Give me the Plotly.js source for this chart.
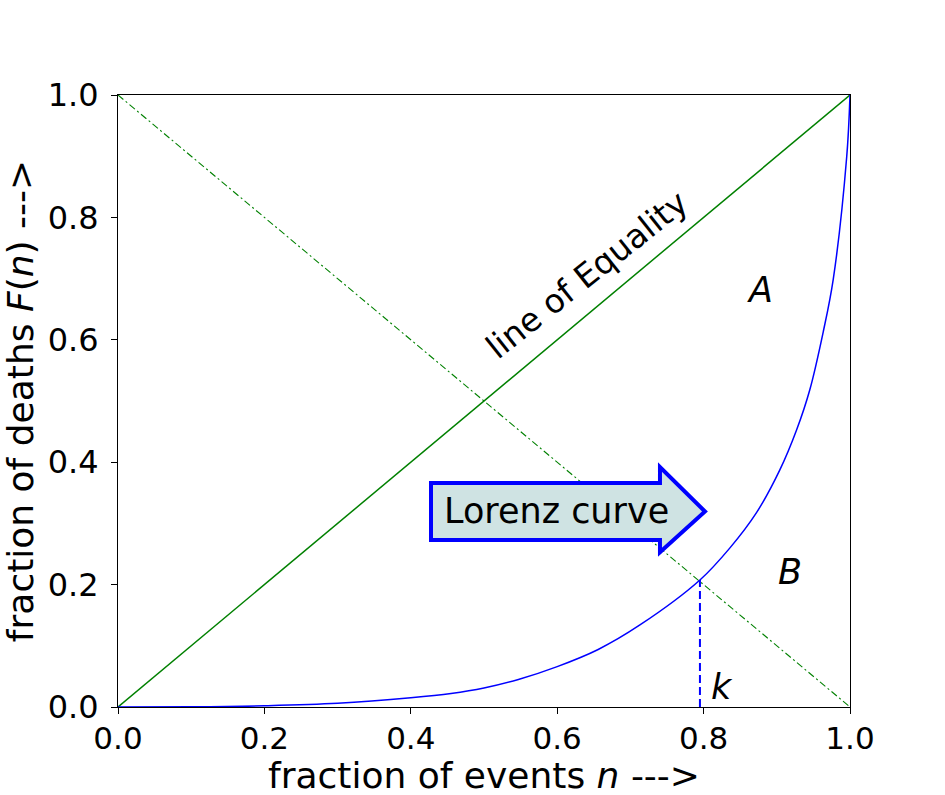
<!DOCTYPE html>
<html>
<head>
<meta charset="utf-8">
<script src="https://cdn.plot.ly/plotly-3.0.1.min.js"></script>
<style>
  html, body { margin: 0; padding: 0; background: #ffffff; }
  #chart { width: 945px; height: 795px; }
</style>
</head>
<body>
<div id="chart"></div>
<script>
// Lorenz curve: cumulative fraction of deaths F(n) against fraction of events n
const lorenzN = [0, 0.1, 0.2, 0.3, 0.4, 0.455, 0.5, 0.547, 0.6, 0.656, 0.713, 0.795, 0.836, 0.8725, 0.904, 0.927, 0.945, 0.9636, 0.977, 0.9955, 1.0];
const lorenzF = [0, 0.0003, 0.002, 0.006, 0.015, 0.022, 0.031, 0.045, 0.066, 0.094, 0.134, 0.2075, 0.260, 0.318, 0.387, 0.4526, 0.518, 0.614, 0.698, 0.899, 1.0];

// line of equality and the anti-diagonal
const equalityN = [0, 1];
const equalityF = [0, 1];
const antiN = [0, 1];
const antiF = [1, 0];

// point k where the Lorenz curve meets the anti-diagonal
const kN = 0.795;
const kF = 0.2075;

const tickVals = [0, 0.2, 0.4, 0.6, 0.8, 1.0];
const tickText = ['0.0', '0.2', '0.4', '0.6', '0.8', '1.0'];

const FONT = 'DejaVu Sans, Verdana, sans-serif';

const traces = [
  {
    x: equalityN, y: equalityF, mode: 'lines', hoverinfo: 'skip',
    line: { color: '#008000', width: 1.5 }
  },
  {
    x: antiN, y: antiF, mode: 'lines', hoverinfo: 'skip',
    line: { color: '#008000', width: 1.1, dash: '7px,3px,2px,3px' }
  },
  {
    x: lorenzN, y: lorenzF, mode: 'lines', hoverinfo: 'skip',
    line: { color: '#0000ff', width: 1.5, shape: 'spline', smoothing: 1.0 }
  },
  {
    x: [kN, kN], y: [0, kF], mode: 'lines', hoverinfo: 'skip',
    line: { color: '#0000ff', width: 2, dash: '8px,4px' }
  }
];

// block arrow around the "Lorenz curve" label (data coordinates)
const ax0 = 0.4276, ax1 = 0.7404, axTip = 0.8019;
const ayTop = 0.366, ayBot = 0.273, ayHeadTop = 0.392, ayHeadBot = 0.253, ayMid = 0.3195;
const arrowPath = `M ${ax0} ${ayBot} L ${ax0} ${ayTop} L ${ax1} ${ayTop} L ${ax1} ${ayHeadTop} ` +
                  `L ${axTip} ${ayMid} L ${ax1} ${ayHeadBot} L ${ax1} ${ayBot} Z`;

const layout = {
  width: 945,
  height: 795,
  margin: { l: 118, r: 95, t: 95, b: 88 },
  paper_bgcolor: '#ffffff',
  plot_bgcolor: '#ffffff',
  showlegend: false,
  font: { family: FONT, color: '#000000' },
  xaxis: {
    range: [0, 1],
    automargin: false,
    tickvals: tickVals,
    ticktext: tickText,
    showgrid: false,
    zeroline: false,
    showline: true,
    linecolor: '#000000',
    linewidth: 1,
    mirror: true,
    ticks: 'outside',
    ticklen: 6,
    tickwidth: 1,
    tickcolor: '#000000',
    ticklabelstandoff: -2,
    tickfont: { family: FONT, size: 31, color: '#000000' }
  },
  yaxis: {
    range: [0, 1],
    automargin: false,
    tickvals: tickVals,
    ticktext: tickText,
    showgrid: false,
    zeroline: false,
    showline: true,
    linecolor: '#000000',
    linewidth: 1,
    mirror: true,
    ticks: 'outside',
    ticklen: 6,
    tickwidth: 1,
    tickcolor: '#000000',
    ticklabelstandoff: 6,
    tickfont: { family: FONT, size: 32, color: '#000000' },
    title: {
      text: 'fraction of deaths <i>F</i>(<i>n</i>) --->',
      font: { family: FONT, size: 36, color: '#000000' },
      standoff: 6
    }
  },
  shapes: [
    {
      type: 'path', xref: 'x', yref: 'y', path: arrowPath,
      fillcolor: '#cfe3e3', line: { color: '#0000ff', width: 4 }, layer: 'above'
    }
  ],
  annotations: [
    {
      // x-axis title, set just under the tick labels
      x: 0.5, y: 0, xref: 'paper', yref: 'paper',
      xanchor: 'center', yanchor: 'bottom', yshift: -90,
      showarrow: false, borderpad: 0,
      text: 'fraction of events <i>n</i> --->',
      font: { family: FONT, size: 36, color: '#000000' }
    },
    {
      x: 0.5997, y: 0.3195, xref: 'x', yref: 'y', showarrow: false,
      text: 'Lorenz curve', font: { family: FONT, size: 35, color: '#000000' }
    },
    {
      x: 0.641, y: 0.706, xref: 'x', yref: 'y', showarrow: false,
      text: 'line of Equality', textangle: -38.5,
      font: { family: FONT, size: 33, color: '#000000' }
    },
    {
      x: 0.877, y: 0.681, xref: 'x', yref: 'y', showarrow: false,
      text: '<i>A</i>', font: { family: FONT, size: 35, color: '#000000' }
    },
    {
      x: 0.918, y: 0.221, xref: 'x', yref: 'y', showarrow: false,
      text: '<i>B</i>', font: { family: FONT, size: 35, color: '#000000' }
    },
    {
      x: 0.825, y: 0.033, xref: 'x', yref: 'y', showarrow: false,
      text: '<i>k</i>', font: { family: FONT, size: 35, color: '#000000' }
    }
  ]
};

Plotly.newPlot('chart', traces, layout, { staticPlot: true, displayModeBar: false });
</script>
</body>
</html>
